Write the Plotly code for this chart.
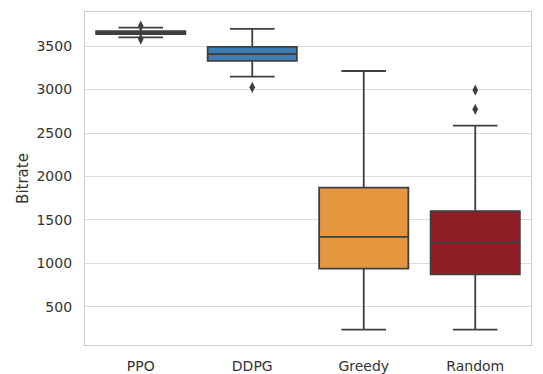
import plotly.graph_objects as go

categories = ["PPO", "DDPG", "Greedy", "Random"]
lower_fence = [3600, 3147, 240, 240]
q1 = [3638, 3330, 941, 876]
median = [3655, 3408, 1305, 1247]
q3 = [3672, 3490, 1872, 1603]
upper_fence = [3712, 3697, 3213, 2585]
outlier_cat = ["PPO", "PPO", "DDPG", "Random", "Random"]
outlier_val = [3730, 3580, 3025, 2772, 2994]
fill_colors = ["#3a3a3a", "#3e7db4", "#e5973f", "#8f1f25"]

line_col = "#3f3f3f"
fig = go.Figure()
for i, c in enumerate(categories):
    fig.add_trace(go.Box(
        x=[c], q1=[q1[i]], median=[median[i]], q3=[q3[i]],
        lowerfence=[lower_fence[i]], upperfence=[upper_fence[i]],
        fillcolor=fill_colors[i], line=dict(color=line_col, width=1.8),
        width=0.8, whiskerwidth=0.5, boxpoints=False, showlegend=False,
        hoverinfo="skip",
    ))
fig.add_trace(go.Scatter(
    x=outlier_cat, y=outlier_val, mode="markers",
    marker=dict(symbol="diamond-tall", size=8, color=line_col),
    showlegend=False, hoverinfo="skip",
))

# the page body has an 8px default margin, so the figure is sized to fit the window
fig.update_layout(
    width=535, height=366,
    margin=dict(l=77, r=12, t=4, b=29),
    plot_bgcolor="white", paper_bgcolor="white",
    font=dict(family="DejaVu Sans", size=14, color="#262626"),
    boxmode="overlay",
)
fig.update_xaxes(
    type="category", categoryorder="array", categoryarray=categories,
    showgrid=False, showline=True, mirror=True, linecolor="#cccccc", linewidth=1.2,
    ticks="", ticklabelstandoff=8, tickfont=dict(size=14, color="#333333"),
    range=[-0.5, 3.5], automargin=False,
)
fig.update_yaxes(
    range=[63, 3891], tickvals=[500, 1000, 1500, 2000, 2500, 3000, 3500],
    showgrid=True, gridcolor="#dcdcdc", gridwidth=1, zeroline=False,
    showline=True, mirror=True, linecolor="#cccccc", linewidth=1.2,
    ticks="", ticklabelstandoff=9, tickfont=dict(size=14, color="#333333"),
    title=dict(text="Bitrate", font=dict(size=15, color="#333333"), standoff=4),
    automargin=False,
)
fig.write_html("out.html")
